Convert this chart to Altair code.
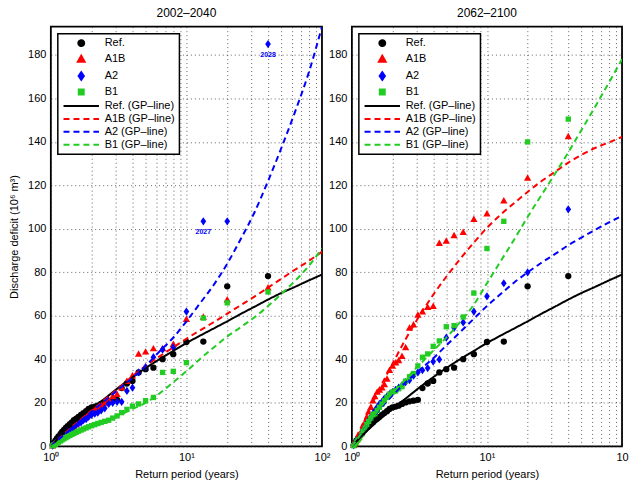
import altair as alt
import pandas as pd

# ---------------- data ----------------
RP = [40, 20, 13.33, 10, 8, 6.67, 5.71, 5, 4.44, 4, 3.64, 3.33, 3.08, 2.86, 2.67, 2.5, 2.35,
      2.22, 2.11, 2, 1.9, 1.82, 1.74, 1.67, 1.6, 1.54, 1.48, 1.43, 1.38, 1.33, 1.29, 1.25,
      1.21, 1.18, 1.14, 1.11, 1.08, 1.05, 1.03]

REF_L = [78.3, 73.6, 48.2, 48.0, 42.4, 40.1, 36.2, 35.5, 34.0, 30.1, 28.9, 26.8, 21.4, 21.0,
         20.7, 20.2, 19.5, 18.7, 18.3, 17.9, 17.2, 16.2, 15.3, 14.5, 13.5, 12.7, 12.0, 11.0,
         10.2, 9.3, 8.5, 7.6, 6.6, 5.7, 4.6, 3.6, 2.6, 1.6, 0.6]
A1B_L = [73, 67.5, 59.5, 58.5, 47, 45, 45, 43.5, 42.5, 32.5, 30, 27, 24, 23, 21.5, 20, 19,
         17.5, 17, 16, 15, 14, 13, 12, 11, 10, 9, 8.5, 7.5, 6.5, 6, 5, 4, 3.5, 3, 2, 1.5, 1, 0.3]
A2_L = [185, 103.5, 103.5, 62, 45.5, 44.5, 41, 36.5, 34, 27, 25.5, 20.5, 20.5, 20, 19.5, 17.5,
        16.5, 15.5, 15, 14.5, 13.5, 12.5, 12, 11, 10.5, 10, 9, 8, 7.5, 7, 6, 5, 4.5, 3.5, 3,
        2, 1.5, 0.8, 0.3]
B1_L = [71, 66, 59, 38.5, 34.5, 34, 22.5, 21, 19.5, 18.5, 17, 15.5, 14, 13, 12, 11.5, 11,
        10.5, 10, 9.5, 9, 8.5, 8, 7.5, 7, 6.5, 6, 5.5, 5, 4.5, 4, 3.5, 3, 2.5, 2, 1.5, 1, 0.6, 0.2]

REF_R = REF_L
A1B_R = [142.5, 123.5, 113, 107, 104.5, 98.5, 97, 94.5, 93.5, 64.5, 64, 62, 60.5, 56, 54.5,
         45.5, 41.5, 39.5, 38.5, 37, 35, 31, 28.5, 27, 26, 25, 23, 21, 18, 16, 13, 11, 9, 7,
         5.5, 4, 3, 1.5, 0.5]
A2_R = [109, 80, 75, 69, 62, 57, 54.5, 50, 40, 39, 36, 35, 34, 32.5, 30.5, 29.5, 28, 27, 26,
        25, 24, 23, 22, 20.5, 19.5, 18, 16.5, 15, 13.5, 12, 10.5, 9, 7.5, 6, 4.5, 3.5, 2.5, 1.5, 0.5]
B1_R = [150.5, 140, 103.5, 91, 70.5, 59.5, 55.5, 55, 48.5, 46, 42.5, 41, 37, 33.5, 32, 30,
        27.5, 26.5, 25.5, 25, 24, 22.5, 21, 19.5, 18, 16.5, 15, 14.5, 13, 11.5, 10, 8.5, 7,
        5.5, 4, 3, 2, 1, 0.3]

# GP fitted lines
GP_T = [1, 1.25, 1.6, 2, 2.5, 3.2, 4, 5, 6.3, 8, 10, 12.5, 16, 20, 25, 32, 40, 50, 63, 80, 100]
GP_REF = [0, 6.3, 12.5, 17.5, 22, 27.3, 31.8, 36, 40, 43.9, 47.5, 50.8, 54.3, 57.5, 60.8,
          64.3, 67.5, 70.5, 73.3, 76.3, 79]
GP_A1B_L = [0, 5.7, 11.5, 16.5, 21.5, 27, 32.3, 37, 41.3, 45.5, 49.5, 53.2, 57.2, 61, 64.8,
            69, 73, 77, 81.2, 85.3, 89.5]
GP_A2_L = [0, 5.3, 11, 16, 21, 26.5, 31.5, 37, 43.5, 50, 57.5, 65.5, 74.5, 84, 95, 108, 122,
           137, 153.5, 172, 193]
GP_B1_L = [0, 3, 6.3, 9, 11.5, 14.3, 17.2, 20, 24.2, 29.5, 34.5, 40, 45.6, 50.5, 54.7, 59.5,
           64.5, 70, 76, 83, 91]
GP_A1B_R = [0, 12.6, 26.5, 38, 49.3, 60.5, 69.7, 78, 86, 93.7, 100.5, 106.3, 112, 117, 121.7,
            126.3, 130.5, 134, 137.2, 139.8, 142.3]
GP_A2_R = [0, 8.3, 16.8, 23.5, 29.4, 35.3, 40.5, 46.4, 52.4, 58.7, 64.5, 69.8, 75.5, 80, 84.2,
           88.5, 92.5, 96, 99.5, 103, 106]
GP_B1_R = [0, 8.2, 17.3, 24.5, 31, 37.8, 44, 50, 57, 65.2, 75, 84.7, 95.4, 105.5, 115, 125.5,
           135.2, 145.4, 156, 167.3, 178]

ANN_T = [40, 13.33]
ANN_V = [185, 103.5]
ANN_TXT = ["2028", "2027"]

POINT_LABELS = ["Ref.", "A1B", "A2", "B1"]
LINE_LABELS = ["Ref. (GP–line)", "A1B (GP–line)", "A2 (GP–line)", "B1 (GP–line)"]
ALL_LABELS = POINT_LABELS + LINE_LABELS
COLORS = ["#000000", "#ff0000", "#0000ff", "#22cc22"] * 2
TRIANGLE = "M0,-1.15L1.15,0.9L-1.15,0.9Z"
DIAMOND = "M0,-1.3L0.9,0L0,1.3L-0.9,0Z"
SQUARE = "M-0.85,-0.85H0.85V0.85H-0.85Z"
LINE_SYM = "M-6.1,0H6.1"
SHAPES = ["circle", TRIANGLE, DIAMOND, SQUARE, LINE_SYM, LINE_SYM, LINE_SYM, LINE_SYM]
DASHES = [[1, 0], [1, 0], [1, 0], [1, 0], [1, 0], [6, 4], [6, 4], [6, 4]]

FONT = "Liberation Sans"


def points_df(series):
    rows = []
    for lab, vals in zip(POINT_LABELS, series):
        for t, v in zip(RP, vals):
            rows.append({"label": lab, "T": t, "v": v})
    return pd.DataFrame(rows)


def lines_df(series):
    rows = []
    for lab, vals in zip(LINE_LABELS, series):
        for t, v in zip(GP_T, vals):
            rows.append({"label": lab, "T": t, "v": v})
    return pd.DataFrame(rows)


XVALS = [1, 2, 3, 4, 5, 6, 7, 8, 9, 10, 20, 30, 40, 50, 60, 70, 80, 90, 100]
YVALS = [0, 20, 40, 60, 80, 100, 120, 140, 160, 180]
XLAB_FULL = "datum.value == 1 ? '10⁰' : datum.value == 10 ? '10¹' : datum.value == 100 ? '10²' : ''"
# the right panel's last label is cut at the page edge in the original
XLAB_CUT = "datum.value == 1 ? '10⁰' : datum.value == 10 ? '10¹' : datum.value == 100 ? '10' : ''"


def panel(title, pts, lns, ann=None, ytitle=None, width=272, xlab=XLAB_FULL):
    x = alt.X("T:Q",
              scale=alt.Scale(type="log", domain=[1, 100], nice=False),
              axis=alt.Axis(title="Return period (years)", values=XVALS, labelExpr=xlab,
                            labelFlush=False, labelOverlap=False))
    yaxis = alt.Axis(values=YVALS, labelOverlap=False, title=ytitle if ytitle else None)
    y = alt.Y("v:Q", scale=alt.Scale(domain=[0, 193], nice=False, zero=True), axis=yaxis)
    leg = alt.Legend(title=None, orient="top-left", offset=7)
    cscale = alt.Scale(domain=ALL_LABELS, range=COLORS)
    p = alt.Chart(pts).mark_point(filled=True, size=40, opacity=1).encode(
        x=x, y=y,
        color=alt.Color("label:N", scale=cscale, legend=leg, sort=ALL_LABELS),
        shape=alt.Shape("label:N", scale=alt.Scale(domain=ALL_LABELS, range=SHAPES), legend=leg, sort=ALL_LABELS),
    )
    l = alt.Chart(lns).mark_line(strokeWidth=2, interpolate="monotone", clip=True).encode(
        x=x, y=y,
        color=alt.Color("label:N", scale=cscale, legend=leg, sort=ALL_LABELS),
        strokeDash=alt.StrokeDash("label:N", scale=alt.Scale(domain=ALL_LABELS, range=DASHES), legend=leg, sort=ALL_LABELS),
    )
    layers = [p, l]
    if ann is not None:
        t = alt.Chart(ann).mark_text(color="#0000ff", fontSize=7, fontWeight="bold", dy=11,
                                     font=FONT).encode(x=x, y=y, text="txt:N")
        layers.append(t)
    return alt.layer(*layers).properties(width=width, height=421, title=title)


ann_df = pd.DataFrame({"T": ANN_T, "v": ANN_V, "txt": ANN_TXT})

left = panel("2002–2040",
             points_df([REF_L, A1B_L, A2_L, B1_L]),
             lines_df([GP_REF, GP_A1B_L, GP_A2_L, GP_B1_L]),
             ann=ann_df, ytitle="Discharge deficit (10⁶ m³)", width=272)
right = panel("2062–2100",
              points_df([REF_R, A1B_R, A2_R, B1_R]),
              lines_df([GP_REF, GP_A1B_R, GP_A2_R, GP_B1_R]),
              width=271, xlab=XLAB_CUT)

chart = alt.hconcat(left, right, spacing=30, bounds="flush").resolve_scale(
    x="independent", y="independent", color="independent", shape="independent",
    strokeDash="independent"
).resolve_legend(
    color="independent", shape="independent", strokeDash="independent"
).properties(
    padding={"left": 7, "top": 5, "right": 0, "bottom": 5}
).configure_view(
    stroke="black", strokeWidth=1.8
).configure_axis(
    labelFont=FONT, labelFontSize=11, labelColor="black",
    titleFont=FONT, titleFontSize=11, titleFontWeight="normal", titleColor="black",
    domain=False, ticks=False, labelPadding=5,
    grid=True, gridColor="#222222", gridDash=[1, 3], gridOpacity=0.7, gridWidth=1,
).configure_axisY(titlePadding=8).configure_axisX(titlePadding=6).configure_title(
    font=FONT, fontSize=12, fontWeight="normal", color="black", offset=7
).configure_legend(
    labelFont=FONT, labelFontSize=11, labelColor="black",
    symbolSize=34, symbolStrokeWidth=2, symbolOffset=14, labelOffset=18,
    fillColor="white", strokeColor="black", strokeWidth=1.5,
    padding=4, rowPadding=1, cornerRadius=0,
)

chart.save("out.html", embed_options={"renderer": "svg", "actions": False})
